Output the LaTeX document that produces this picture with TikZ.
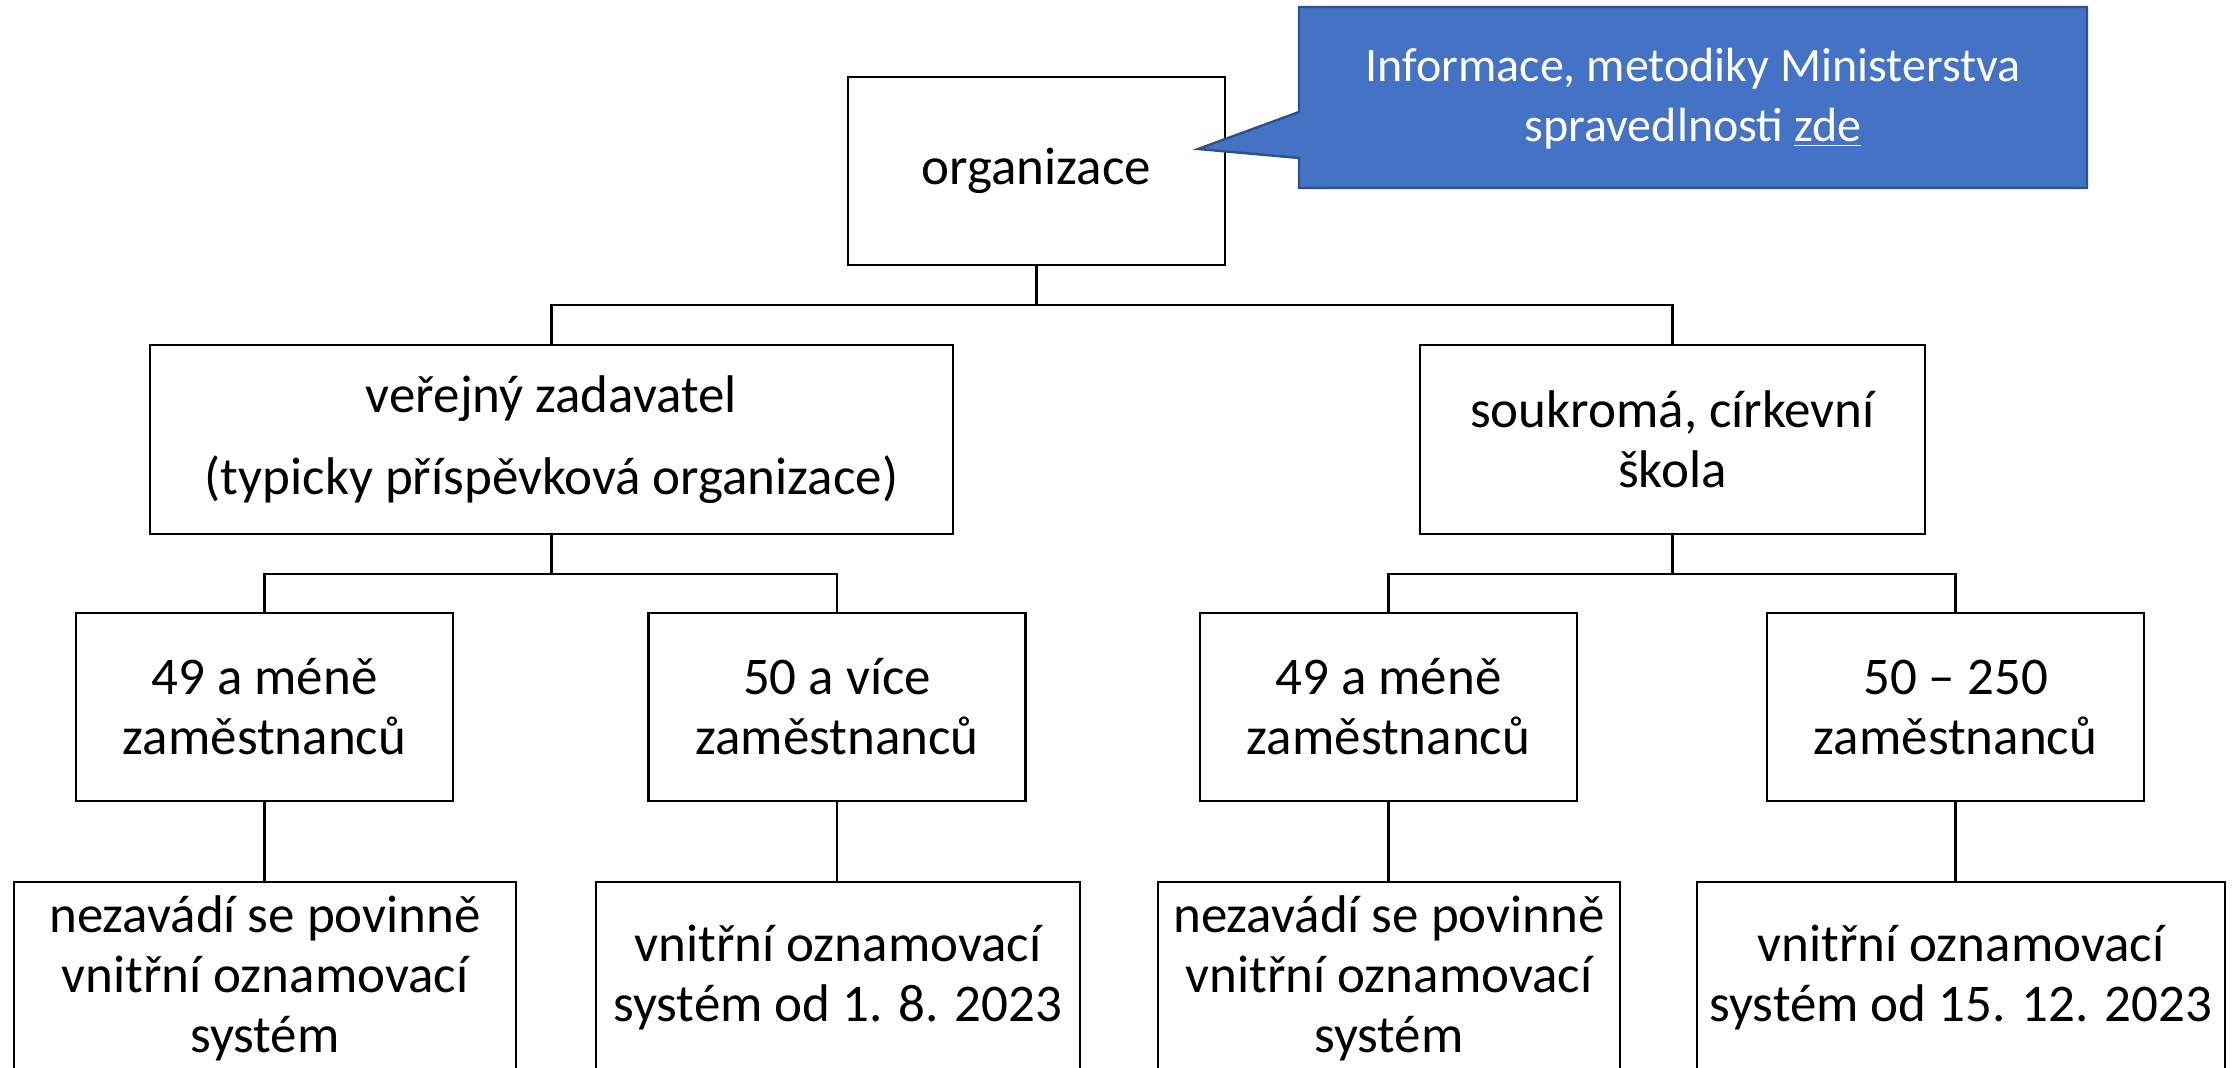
\documentclass[tikz,border=0pt]{standalone}
\usepackage{fontspec}
\setmainfont{Carlito}
\usepackage{xcolor}
\usetikzlibrary{calc}
\definecolor{calloutfill}{HTML}{4472C4}
\definecolor{calloutline}{HTML}{2F528F}
\tikzset{
    orgbox/.style={draw, line width=1.2pt, align=center, inner sep=0pt,
        font=\fontsize{26.5}{30}\selectfont},
    link/.style={line width=1.2pt}
}

\begin{document}
\begin{tikzpicture}[x=0.5pt, y=-0.5pt]
    % Canvas
    \clip (0,0) rectangle (2234,1068);
    \useasboundingbox (0,0) rectangle (2234,1068);

    % Top box
    \node[orgbox, minimum width=188.5pt, minimum height=94pt] (org) at (1036.5,171) {organizace};

    % Callout (blue)
    \draw[line width=1.2pt, draw=calloutline, fill=calloutfill]
        (1299,7) -- (2087,7) -- (2087,188) -- (1299,188) -- (1299,158)
        -- (1198,149) -- (1299,112) -- cycle;
    \node[text=white, align=center, font=\fontsize{24}{30}\selectfont] (info) at (1693,99)
        {Informace, metodiky Ministerstva\\spravedlnosti \underline{zde}};

    % Second level
    \node[orgbox, minimum width=401.5pt, minimum height=94.5pt] (pub) at (551.5,439.5)
        {veřejný zadavatel\\[11pt](typicky příspěvková organizace)};
    \node[orgbox, minimum width=252.5pt, minimum height=94.5pt] (priv) at (1672.5,439.5)
        {soukromá, církevní\\škola};

    % Third level
    \node[orgbox, minimum width=188.5pt, minimum height=94pt] (pubsmall) at (264.5,707) {49 a méně\\zaměstnanců};
    \node[orgbox, minimum width=188.5pt, minimum height=94pt] (publarge) at (837,707) {50 a více\\zaměstnanců};
    \node[orgbox, minimum width=188.5pt, minimum height=94pt] (privsmall) at (1388.5,707) {49 a méně\\zaměstnanců};
    \node[orgbox, minimum width=188.5pt, minimum height=94pt] (privlarge) at (1955.5,707) {50 – 250\\zaměstnanců};

    % Fourth level (cut at the bottom)
    \node[orgbox, minimum width=251pt, minimum height=96pt] (pubsmallsys) at (265,978)
        {nezavádí se povinně\\vnitřní oznamovací\\systém};
    \node[orgbox, minimum width=242pt, minimum height=96pt] (publargesys) at (838,978)
        {vnitřní oznamovací\\systém od 1. 8. 2023};
    \node[orgbox, minimum width=231pt, minimum height=96pt] (privsmallsys) at (1389,978)
        {nezavádí se povinně\\vnitřní oznamovací\\systém};
    \node[orgbox, minimum width=264pt, minimum height=96pt] (privlargesys) at (1961,978)
        {vnitřní oznamovací\\systém od 15. 12. 2023};

    % Connectors
    \draw[link] (org.south) -- ++(0,39) -| (pub.north);
    \draw[link] (org.south) -- ++(0,39) -| (priv.north);
    \draw[link] (pub.south) -- ++(0,39) -| (pubsmall.north);
    \draw[link] (pub.south) -- ++(0,39) -| (publarge.north);
    \draw[link] (priv.south) -- ++(0,39) -| (privsmall.north);
    \draw[link] (priv.south) -- ++(0,39) -| (privlarge.north);
    \draw[link] (pubsmall.south) -- (pubsmall.south |- pubsmallsys.north);
    \draw[link] (publarge.south) -- (publarge.south |- publargesys.north);
    \draw[link] (privsmall.south) -- (privsmall.south |- privsmallsys.north);
    \draw[link] (privlarge.south) -- (privlarge.south |- privlargesys.north);
\end{tikzpicture}
\end{document}
